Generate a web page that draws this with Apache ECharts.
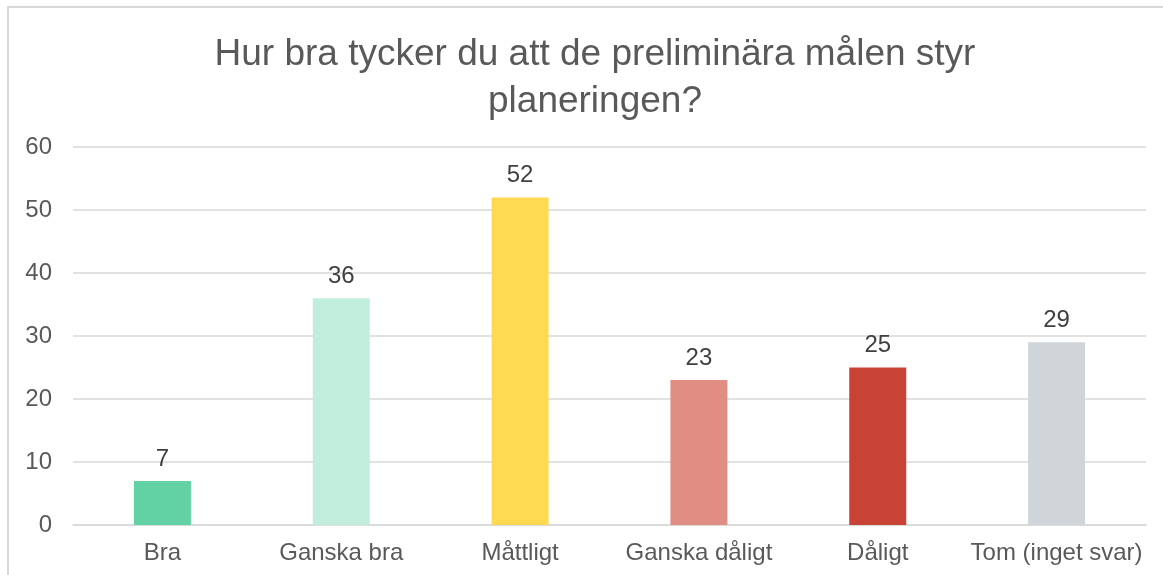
<!DOCTYPE html>
<html>
<head>
<meta charset="utf-8">
<script src="https://cdn.jsdelivr.net/npm/echarts@6/dist/echarts.min.js"></script>
<style>
  html, body { margin: 0; padding: 0; background: #fff; }
  #chart { width: 1163px; height: 575px; }
</style>
</head>
<body>
<div id="chart"></div>
<script>
var categories = ["Bra", "Ganska bra", "Måttligt", "Ganska dåligt", "Dåligt", "Tom (inget svar)"];
var values = [7, 36, 52, 23, 25, 29];
var barColors = ["#62D2A4", "#C0EDDC", "#FFD952", "#E08E83", "#C84236", "#D0D5DA"];
var yTicks = { min: 0, max: 60, interval: 10 };

var font = "'Liberation Sans', Arial, sans-serif";

var chart = echarts.init(document.getElementById("chart"), null, { renderer: "canvas" });

chart.setOption({
    animation: false,
    graphic: [{
        type: "rect",
        shape: { x: 8, y: 7, width: 1200, height: 600 },
        style: { fill: "none", stroke: "#d9d9d9", lineWidth: 2 },
        silent: true
    }],
    title: {
        text: "Hur bra tycker du att de preliminära målen styr\nplaneringen?",
        left: 590,
        top: 26,
        textAlign: "center",
        textStyle: {
            fontFamily: font,
            fontSize: 37,
            fontWeight: "normal",
            color: "#595959",
            lineHeight: 47
        }
    },
    grid: { left: 73, right: 17, top: 147, bottom: 50, containLabel: false },
    xAxis: {
        type: "category",
        data: categories,
        axisLine: { show: true, lineStyle: { color: "#d9d9d9", width: 1.5 } },
        axisTick: { show: false },
        axisLabel: {
            interval: 0,
            fontFamily: font,
            fontSize: 24,
            color: "#595959",
            margin: 16
        }
    },
    yAxis: {
        type: "value",
        min: yTicks.min,
        max: yTicks.max,
        interval: yTicks.interval,
        axisLine: { show: false },
        axisTick: { show: false },
        splitLine: { lineStyle: { color: "#d9d9d9", width: 1.5 } },
        axisLabel: {
            fontFamily: font,
            fontSize: 24,
            color: "#595959",
            margin: 21
        }
    },
    series: [{
        type: "bar",
        barWidth: 57,
        data: values.map(function (v, i) {
            return { value: v, itemStyle: { color: barColors[i] } };
        }),
        label: {
            show: true,
            position: "top",
            distance: 10,
            fontFamily: font,
            fontSize: 24,
            color: "#404040"
        }
    }]
});
</script>
</body>
</html>
